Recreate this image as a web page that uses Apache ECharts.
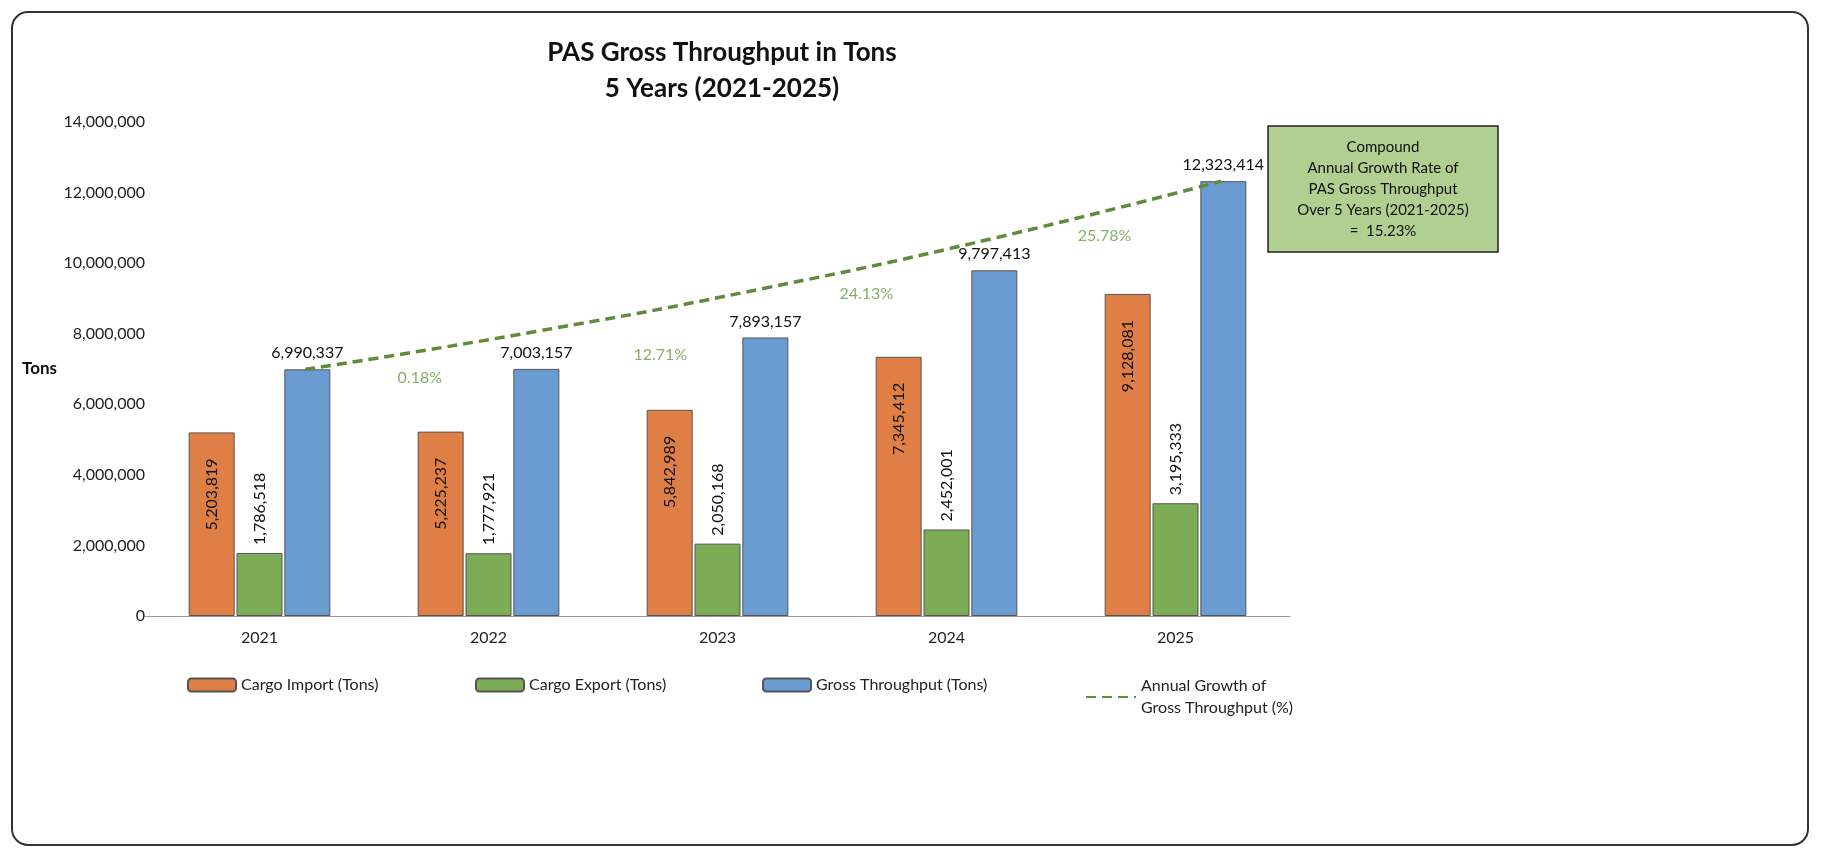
<!DOCTYPE html>
<html><head><meta charset="utf-8">
<script src="https://cdn.jsdelivr.net/npm/echarts@6/dist/echarts.min.js"></script>
<style>html,body{margin:0;padding:0;background:#fff}#c{width:1822px;height:860px}</style>
</head><body><div id="c"></div>
<script>
const years = ['2021','2022','2023','2024','2025'];
const cargoImport = [5203819, 5225237, 5842989, 7345412, 9128081];
const cargoExport = [1786518, 1777921, 2050168, 2452001, 3195333];
const gross = [6990337, 7003157, 7893157, 9797413, 12323414];
const cagrTrend = [6990337, 8055000, 9282000, 10695000, 12323414];
const growth = ['0.18%', '12.71%', '24.13%', '25.78%'];
const growthPos = [[0.70, 6740000], [1.75, 7390000], [2.65, 9120000], [3.69, 10760000]];
const fmt = v => Number(v).toLocaleString('en-US');
const F = 'Lato, "Open Sans", sans-serif';
const chart = echarts.init(document.getElementById('c'));
const barBorder = { borderColor: '#555', borderWidth: 1 };
chart.setOption({
  animation: false,
  textStyle: { fontFamily: F },
  title: { text: 'PAS Gross Throughput in Tons\n5 Years (2021-2025)', left: 717, top: 30, textAlign: 'center',
    textStyle: { fontFamily: F, fontSize: 26, fontWeight: 'bold', color: '#111', lineHeight: 36 } },
  grid: { left: 145, right: 1822 - 1290, top: 122, bottom: 860 - 616 },
  legend: [
    { data: ['Cargo Import (Tons)'], left: 182, top: 672, itemWidth: 48, itemHeight: 13, textStyle: { fontSize: 16, color: '#222' } },
    { data: ['Cargo Export (Tons)'], left: 470, top: 672, itemWidth: 48, itemHeight: 13, textStyle: { fontSize: 16, color: '#222' } },
    { data: ['Gross Throughput (Tons)'], left: 757, top: 672, itemWidth: 48, itemHeight: 13, textStyle: { fontSize: 16, color: '#222' } },
    { data: ['Annual Growth of\nGross Throughput (%)'], left: 1080, top: 670, itemWidth: 50, itemHeight: 13,
      itemStyle: { opacity: 0 }, textStyle: { fontSize: 16, color: '#222', lineHeight: 22 } }
  ],
  xAxis: [
    { type: 'category', data: years, axisLine: { lineStyle: { color: '#999' } }, axisTick: { show: false },
      axisLabel: { fontSize: 16, color: '#222', margin: 14 } },
    { type: 'value', min: -0.5, max: 4.5, show: false }
  ],
  yAxis: { type: 'value', min: 0, max: 14000000, interval: 2000000, name: 'Tons', nameLocation: 'middle', nameGap: 88, nameRotate: 0,
    nameTextStyle: { fontSize: 17, fontWeight: 'bold', color: '#111' },
    axisLine: { show: false }, axisTick: { show: false }, splitLine: { show: false },
    axisLabel: { fontSize: 16, color: '#222', margin: 0, formatter: fmt } },
  series: [
    { name: 'Cargo Import (Tons)', type: 'bar', data: cargoImport, barWidth: 46, barGap: '0%', barCategoryGap: '40%',
      itemStyle: Object.assign({ color: '#E07F45' }, barBorder),
      label: { show: true, position: 'insideTop', rotate: 90, align: 'right', verticalAlign: 'middle', distance: 26,
        fontSize: 16, color: '#111', formatter: p => fmt(p.value) } },
    { name: 'Cargo Export (Tons)', type: 'bar', data: cargoExport, barWidth: 46, barGap: '0%',
      itemStyle: Object.assign({ color: '#7CAC55' }, barBorder),
      label: { show: true, position: 'top', rotate: 90, align: 'left', verticalAlign: 'middle', distance: 8,
        fontSize: 16, color: '#111', formatter: p => fmt(p.value) } },
    { name: 'Gross Throughput (Tons)', type: 'bar', data: gross, barWidth: 46, barGap: '4%',
      itemStyle: Object.assign({ color: '#6A9BD1' }, barBorder),
      label: { show: true, position: 'top', distance: 8, fontSize: 16, color: '#111', formatter: p => fmt(p.value) } },
    { name: 'Annual Growth of\nGross Throughput (%)', type: 'line', xAxisIndex: 1,
      data: cagrTrend.map((v, i) => [i + 0.2, v]), symbol: 'none', smooth: true,
      lineStyle: { color: '#5E8C3A', width: 3.5, type: [10, 6] }, itemStyle: { color: '#5E8C3A' }, z: 5 },
    { name: 'growthLabels', type: 'scatter', xAxisIndex: 1, symbolSize: 0,
      data: growthPos.map((p, i) => ({ value: p, label: { formatter: growth[i] } })),
      label: { show: true, position: 'inside', fontSize: 16, color: '#6A9A3E' } }
  ],
  graphic: [
    { type: 'rect', shape: { x: 12, y: 12, width: 1796, height: 833, r: 16 }, style: { fill: 'none', stroke: '#333', lineWidth: 2 }, silent: true },
    { type: 'rect', shape: { x: 1268, y: 126, width: 230, height: 126 }, style: { fill: '#B1CF90', stroke: '#222', lineWidth: 1.5 } },
    { type: 'text', x: 1383, y: 189, style: { text: 'Compound\nAnnual Growth Rate of\nPAS Gross Throughput\nOver 5 Years (2021-2025)\n=  15.23%',
      fontFamily: F, fontSize: 15, lineHeight: 21, fill: '#111', align: 'center', verticalAlign: 'middle' } }
  ]
});
</script></body></html>
